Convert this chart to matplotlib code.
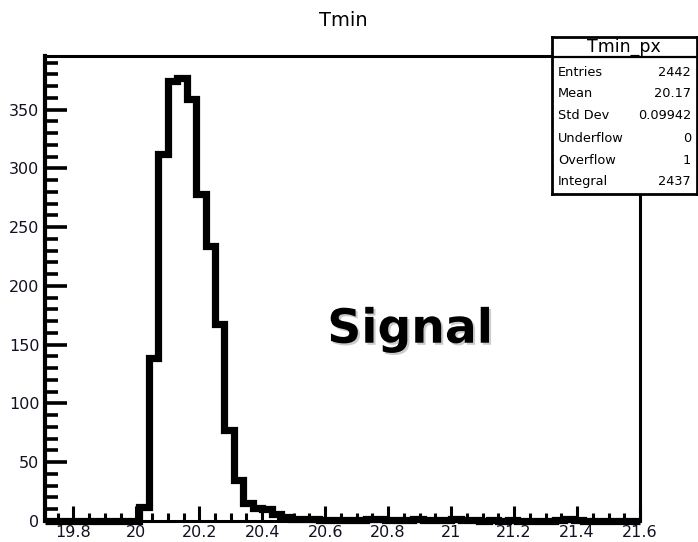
import numpy as np
import matplotlib
matplotlib.use("Agg")
import matplotlib.pyplot as plt
from matplotlib.ticker import MultipleLocator, FixedLocator
import matplotlib.patheffects as pe

# Histogram definition: 63 bins of width 0.03 over [19.71, 21.60]
x_low, x_high, n_bins = 19.71, 21.60, 63
edges = np.linspace(x_low, x_high, n_bins + 1)

# Bin contents, starting at bin [20.01, 20.04]; all earlier bins are empty
peak_counts = [12, 139, 312, 374, 377, 359, 278, 234, 168, 77, 35,
               15, 11, 10, 6, 3, 2, 2, 2, 1, 1, 1, 1, 1, 2, 2, 1, 1,
               1, 2, 1, 1, 1, 2, 1, 1, 0, 1, 0, 1, 0, 0, 0, 0, 1, 2,
               1, 0, 0, 0, 0, 0, 0]
first_bin = 10
counts = np.zeros(n_bins)
counts[first_bin:first_bin + len(peak_counts)] = peak_counts

x_ticks = [19.8, 20.0, 20.2, 20.4, 20.6, 20.8, 21.0, 21.2, 21.4, 21.6]
x_tick_labels = ["19.8", "20", "20.2", "20.4", "20.6", "20.8", "21", "21.2", "21.4", "21.6"]
y_ticks = [0, 50, 100, 150, 200, 250, 300, 350]

stats_names = ["Entries", "Mean", "Std Dev", "Underflow", "Overflow", "Integral"]
stats_values = ["2442", "20.17", "0.09942", "0", "1", "2437"]

W, H = 698, 542
fig = plt.figure(figsize=(W / 100, H / 100), dpi=100)
fig.patch.set_facecolor("white")

def fx(px):
    return px / W

def fy(py):
    return 1 - py / H

ax = fig.add_axes([fx(45), fy(521), fx(640) - fx(45), fy(55.7) - fy(521)])
ax.stairs(counts, edges, color="black", linewidth=5.2, clip_on=False,
          joinstyle="miter", zorder=3)

ax.set_xlim(x_low, x_high)
ax.set_ylim(0, 377 * 1.05)

for s in ax.spines.values():
    s.set_linewidth(2.2)
    s.set_color("black")
ax.spines["left"].set_linewidth(3)

ax.xaxis.set_major_locator(FixedLocator(x_ticks))
ax.set_xticklabels(x_tick_labels)
ax.xaxis.set_minor_locator(MultipleLocator(0.05))
ax.yaxis.set_major_locator(FixedLocator(y_ticks))
ax.yaxis.set_minor_locator(MultipleLocator(10))

ax.tick_params(axis="x", which="major", direction="in", length=11, width=2.2,
               labelsize=11.5, pad=3, top=False)
ax.tick_params(axis="x", which="minor", direction="in", length=6, width=2.2, top=False)
ax.tick_params(axis="y", which="major", direction="in", length=16, width=2.6,
               labelsize=11.5, pad=4, right=False)
ax.tick_params(axis="y", which="minor", direction="in", length=9, width=2.6, right=False)
for lab in ax.get_xticklabels() + ax.get_yticklabels():
    lab.set_family("DejaVu Sans")
    lab.set_color("#111122")

# Title
fig.text(fx(343), fy(20), "Tmin", ha="center", va="center",
         fontsize=14, family="DejaVu Sans", color="black")

# Big annotation with a soft drop shadow
ax.text(0.614, 0.41, "Signal", transform=ax.transAxes, ha="center", va="center",
        fontsize=34, fontweight="bold", family="DejaVu Sans", color="black",
        path_effects=[pe.withSimplePatchShadow(offset=(1.5, -1.5), shadow_rgbFace="#999999",
                                               alpha=0.5)],
        zorder=5)

# Statistics box
bx0, bx1, by0, by1, bsep = 551.5, 697, 36.5, 194, 56.7
box = fig.add_axes([fx(bx0), fy(by1), fx(bx1) - fx(bx0), fy(by0) - fy(by1)])
box.set_xlim(bx0, bx1)
box.set_ylim(by1, by0)
box.set_xticks([])
box.set_yticks([])
box.set_facecolor("white")
for s in box.spines.values():
    s.set_linewidth(2)
box.axhline(bsep, color="black", linewidth=1.6)
box.text((bx0 + bx1) / 2, 46.5, "Tmin_px", ha="center", va="center",
         fontsize=12.5, family="DejaVu Sans")
row_y = [72.7, 93.7, 115.5, 138.0, 160.0, 181.7]
for name, val, y in zip(stats_names, stats_values, row_y):
    box.text(558, y, name, ha="left", va="center", fontsize=9.3, family="DejaVu Sans")
    box.text(691, y, val, ha="right", va="center", fontsize=9.3, family="DejaVu Sans")

fig.savefig("out.png", dpi=100, facecolor="white")
